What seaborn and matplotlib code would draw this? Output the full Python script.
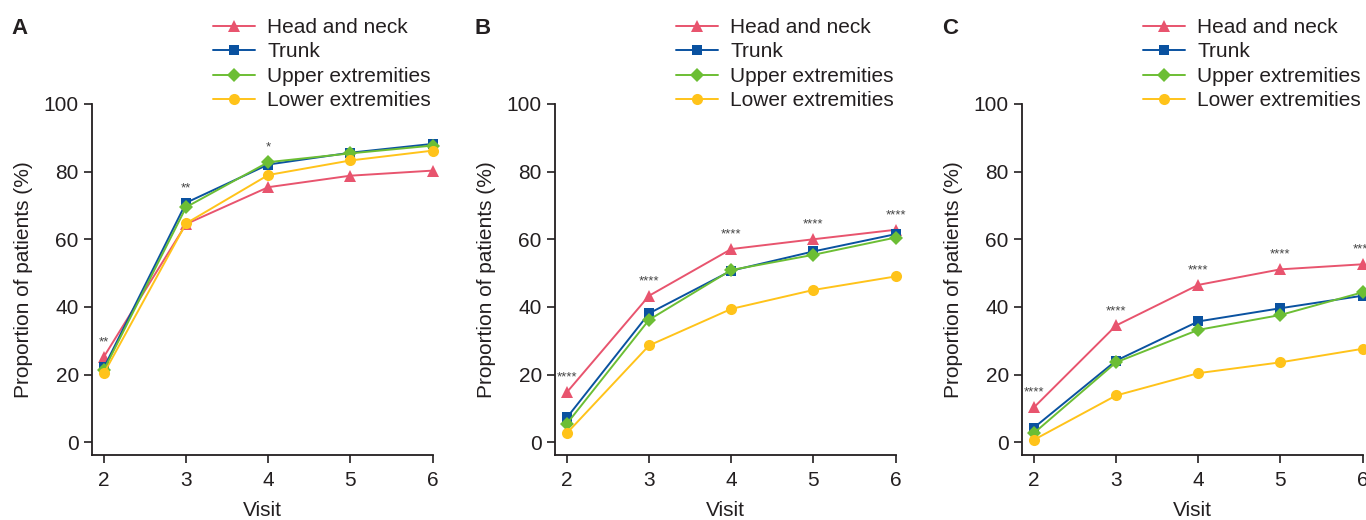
import numpy as np
import pandas as pd
import matplotlib
matplotlib.use("Agg")
import matplotlib.pyplot as plt
import seaborn as sns

visits = [2, 3, 4, 5, 6]
regions = ["Head and neck", "Trunk", "Upper extremities", "Lower extremities"]

# Panel A
a_head = [25.3, 64.5, 75.4, 78.8, 80.3]
a_trunk = [22.1, 70.8, 82.1, 85.6, 88.2]
a_upper = [21.4, 69.5, 82.8, 85.4, 87.7]
a_lower = [20.4, 64.7, 79.0, 83.3, 86.2]
a_stars = ["**", "**", "*", "", ""]

# Panel B
b_head = [14.8, 43.3, 57.1, 60.0, 62.8]
b_trunk = [7.3, 38.1, 50.7, 56.4, 61.5]
b_upper = [5.5, 36.2, 50.9, 55.4, 60.5]
b_lower = [2.7, 28.6, 39.4, 45.0, 49.0]
b_stars = ["****", "****", "****", "****", "****"]

# Panel C
c_head = [10.3, 34.5, 46.5, 51.1, 52.6]
c_trunk = [4.3, 24.1, 35.7, 39.6, 43.3]
c_upper = [2.7, 23.6, 33.2, 37.6, 44.3]
c_lower = [0.7, 13.8, 20.4, 23.6, 27.6]
c_stars = ["****", "****", "****", "****", "****"]

panels = [
    ("A", [a_head, a_trunk, a_upper, a_lower], a_stars),
    ("B", [b_head, b_trunk, b_upper, b_lower], b_stars),
    ("C", [c_head, c_trunk, c_upper, c_lower], c_stars),
]

palette = {"Head and neck": "#E8546E", "Trunk": "#0A52A0",
           "Upper extremities": "#6CBE34", "Lower extremities": "#FFC31A"}
markers = {"Head and neck": "^", "Trunk": "s",
           "Upper extremities": "D", "Lower extremities": "o"}
msizes = {"Head and neck": 8.5, "Trunk": 7, "Upper extremities": 7, "Lower extremities": 8}

sns.set_theme(style="ticks")
plt.rcParams["font.family"] = ["Liberation Sans", "DejaVu Sans"]
txt = "#231F20"
plt.rcParams["text.color"] = txt
plt.rcParams["axes.labelcolor"] = txt
plt.rcParams["xtick.color"] = txt
plt.rcParams["ytick.color"] = txt

fig = plt.figure(figsize=(13.66, 5.2), dpi=100)
lefts = [92, 555, 1022]
W, H = 1366.0, 520.0
ax_w = 340.5
legend_x = [213, 676, 1143]
letter_x = [11, 474, 942]

for i, (letter, series, stars) in enumerate(panels):
    ax = fig.add_axes([lefts[i] / W, 1 - 455 / H, ax_w / W, (455 - 104) / H])
    rows = []
    for r, vals in zip(regions, series):
        for v, y in zip(visits, vals):
            rows.append({"Visit": v, "Proportion": y, "Region": r})
    df = pd.DataFrame(rows)
    for r in regions:
        sub = df[df["Region"] == r]
        sns.lineplot(data=sub, x="Visit", y="Proportion", ax=ax,
                     color=palette[r], marker=markers[r], markersize=msizes[r],
                     markeredgewidth=0, linewidth=1.4, label=r, clip_on=False,
                     zorder=3)
    top = np.max(np.array(series), axis=0)
    for v, y, s in zip(visits, top, stars):
        if s:
            ax.text(v, y + 4.3, s, ha="center", va="center", fontsize=9.5,
                    color="#444444")
    ax.set_xlim(1.854, 6)
    ax.set_ylim(-3.8, 100)
    ax.set_xticks(visits)
    ax.set_yticks([0, 20, 40, 60, 80, 100])
    ax.tick_params(axis="both", labelsize=15, length=5.5, width=1.2, pad=4)
    ax.tick_params(axis="x", pad=6)
    for sp in ["top", "right"]:
        ax.spines[sp].set_visible(False)
    for sp in ["left", "bottom"]:
        ax.spines[sp].set_linewidth(1.3)
        ax.spines[sp].set_color(txt)
    ax.set_xlabel("Visit", fontsize=15, labelpad=8)
    ax.set_ylabel("Proportion of patients (%)", fontsize=15, labelpad=8)
    ax.legend(loc="upper left", bbox_to_anchor=(legend_x[i] / W, 1 - 18 / H),
              bbox_transform=fig.transFigure, frameon=False, fontsize=15,
              borderpad=0, borderaxespad=0, handlelength=2.0,
              handletextpad=0.6, labelspacing=0.26)
    fig.text(letter_x[i] / W, 1 - 29 / H, letter, fontsize=16,
             fontweight="bold", va="center", ha="left")

fig.savefig("out.png", dpi=100)
